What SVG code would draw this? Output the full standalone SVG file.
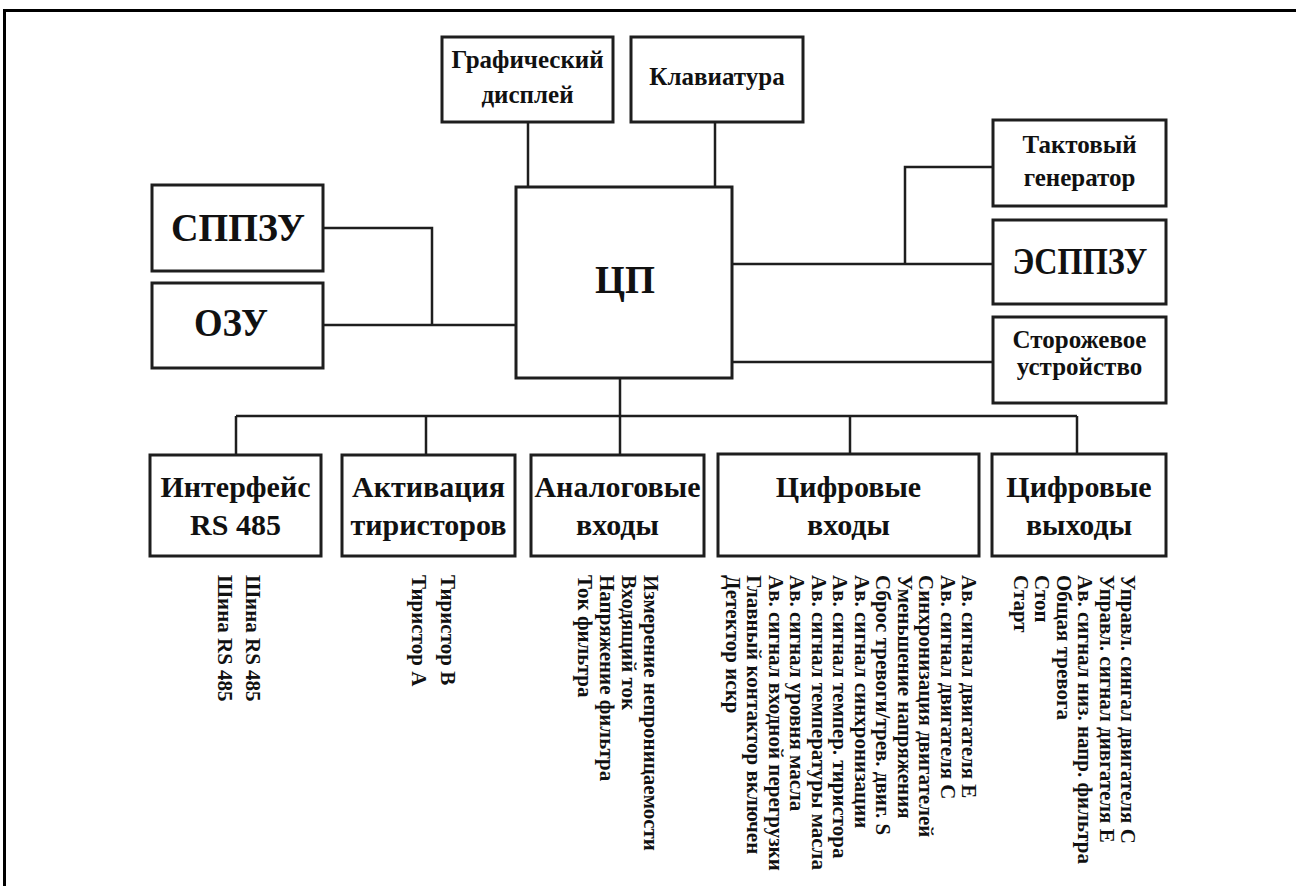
<svg xmlns="http://www.w3.org/2000/svg" width="1296" height="886" viewBox="0 0 1296 886">
<style>
.box{fill:#fff;stroke:#1e1e1e;stroke-width:3}
.conn{fill:none;stroke:#1e1e1e;stroke-width:2.5}
.frame{fill:none;stroke:#000;stroke-width:3}
text{font-family:"Liberation Serif","Times New Roman",serif;font-weight:bold;fill:#111}
.t24{font-size:25px;text-anchor:middle}
.t30{font-size:30px;text-anchor:middle}
.big{font-size:40px;text-anchor:middle}
.v{font-size:21px}
</style>
<rect width="1296" height="886" fill="#fff"/>
<path class="frame" d="M4.5,886 V10.5 H1296"/>
<g id="connectors">
<path class="conn" d="M528,122 V187"/>
<path class="conn" d="M715,122 V187"/>
<path class="conn" d="M323,228 H432 V325"/>
<path class="conn" d="M323,325 H516"/>
<path class="conn" d="M732,264 H993"/>
<path class="conn" d="M905,264 V167 H993"/>
<path class="conn" d="M732,362 H993"/>
<path class="conn" d="M620,378 V455"/>
<path class="conn" d="M236,416 H1077"/>
<path class="conn" d="M236,416 V455"/>
<path class="conn" d="M426,416 V455"/>
<path class="conn" d="M850,416 V454"/>
<path class="conn" d="M1077,416 V454"/>
</g>
<g id="graf">
<rect class="box" x="442" y="37" width="171" height="85"/>
<text class="t24" x="527.5" y="68">Графический</text>
<text class="t24" x="527.5" y="103">дисплей</text>
</g>
<g id="klav">
<rect class="box" x="631" y="37" width="172" height="85"/>
<text class="t24" x="717" y="85">Клавиатура</text>
</g>
<g id="cpu">
<rect class="box" x="516" y="187" width="216" height="191"/>
<text class="big" x="625" y="293" textLength="60" lengthAdjust="spacingAndGlyphs">ЦП</text>
</g>
<g id="sppzu">
<rect class="box" x="152" y="185" width="171" height="86"/>
<text class="big" x="238" y="241" textLength="134" lengthAdjust="spacingAndGlyphs">СППЗУ</text>
</g>
<g id="ozu">
<rect class="box" x="152" y="283" width="171" height="85"/>
<text class="big" x="231" y="336" textLength="74" lengthAdjust="spacingAndGlyphs">ОЗУ</text>
</g>
<g id="takt">
<rect class="box" x="993" y="120" width="173" height="86"/>
<text class="t24" x="1079.5" y="153">Тактовый</text>
<text class="t24" x="1079.5" y="186">генератор</text>
</g>
<g id="esppzu">
<rect class="box" x="993" y="220" width="173" height="84"/>
<text class="big" x="1080" y="274" style="font-size:37px" textLength="135" lengthAdjust="spacingAndGlyphs">ЭСППЗУ</text>
</g>
<g id="watchdog">
<rect class="box" x="993" y="317" width="173" height="86"/>
<text class="t24" x="1079.5" y="348">Сторожевое</text>
<text class="t24" x="1079.5" y="375">устройство</text>
</g>
<g id="rs485">
<rect class="box" x="150" y="455" width="171" height="101"/>
<text class="t30" x="235.5" y="497">Интерфейс</text>
<text class="t30" x="235.5" y="535">RS 485</text>
<text class="v" transform="translate(246,575) rotate(90)">Шина RS 485</text>
<text class="v" transform="translate(218,575) rotate(90)">Шина RS 485</text>
</g>
<g id="thyristors">
<rect class="box" x="342" y="455" width="173" height="101"/>
<text class="t30" x="428.5" y="497">Активация</text>
<text class="t30" x="428.5" y="535">тиристоров</text>
<text class="v" transform="translate(441,575) rotate(90)">Тиристор В</text>
<text class="v" transform="translate(412,575) rotate(90)">Тиристор А</text>
</g>
<g id="analog">
<rect class="box" x="531" y="455" width="173" height="101"/>
<text class="t30" x="617.5" y="497">Аналоговые</text>
<text class="t30" x="617.5" y="535">входы</text>
<text class="v" transform="translate(644,575) rotate(90)">Измерение непроницаемости</text>
<text class="v" transform="translate(622,575) rotate(90)">Входящий ток</text>
<text class="v" transform="translate(600,575) rotate(90)">Напряжение фильтра</text>
<text class="v" transform="translate(578,575) rotate(90)">Ток фильтра</text>
</g>
<g id="dinputs">
<rect class="box" x="718" y="454" width="261" height="102"/>
<text class="t30" x="848.5" y="497">Цифровые</text>
<text class="t30" x="848.5" y="535">входы</text>
<text class="v" transform="translate(962,575) rotate(90)">Ав. сигнал двигателя Е</text>
<text class="v" transform="translate(940.5,575) rotate(90)">Ав. сигнал двигателя С</text>
<text class="v" transform="translate(919,575) rotate(90)">Синхронизация двигателей</text>
<text class="v" transform="translate(897.5,575) rotate(90)">Уменьшение напряжения</text>
<text class="v" transform="translate(876,575) rotate(90)">Сброс тревоги/трев. двиг. S</text>
<text class="v" transform="translate(854.5,575) rotate(90)">Ав. сигнал синхронизации</text>
<text class="v" transform="translate(833,575) rotate(90)">Ав. сигнал темпер. тиристора</text>
<text class="v" transform="translate(811.5,575) rotate(90)">Ав. сигнал температуры масла</text>
<text class="v" transform="translate(790,575) rotate(90)">Ав. сигнал уровня масла</text>
<text class="v" transform="translate(768.5,575) rotate(90)">Ав. сигнал входной перегрузки</text>
<text class="v" transform="translate(747,575) rotate(90)">Главный контактор включен</text>
<text class="v" transform="translate(725.5,575) rotate(90)">Детектор искр</text>
</g>
<g id="doutputs">
<rect class="box" x="992" y="454" width="174" height="102"/>
<text class="t30" x="1079" y="497">Цифровые</text>
<text class="t30" x="1079" y="535">выходы</text>
<text class="v" transform="translate(1121,575) rotate(90)">Управл. сингал двигателя С</text>
<text class="v" transform="translate(1099.5,575) rotate(90)">Управл. сигнал дивгателя Е</text>
<text class="v" transform="translate(1078,575) rotate(90)">Ав. сигнал низ. напр. фильтра</text>
<text class="v" transform="translate(1056.5,575) rotate(90)">Общая тревога</text>
<text class="v" transform="translate(1035,575) rotate(90)">Стоп</text>
<text class="v" transform="translate(1013.5,575) rotate(90)">Старт</text>
</g>
</svg>
